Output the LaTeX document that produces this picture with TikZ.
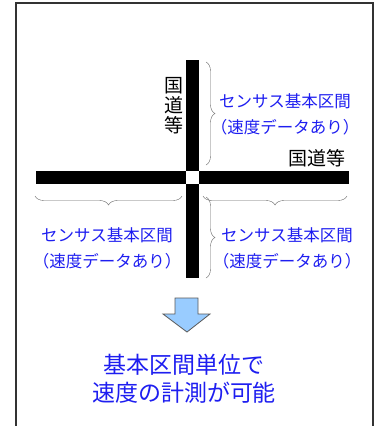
\documentclass[tikz,border=0pt]{standalone}
\usepackage{fontspec}
\setmainfont{Noto Sans CJK JP}
\usepackage{xcolor}
\usetikzlibrary{decorations.pathreplacing}
\definecolor{senblue}{RGB}{30,30,240}
\definecolor{arrowfill}{RGB}{153,204,255}
\tikzset{
	road/.style={fill=black},
	sectbrace/.style={draw=gray!80!black, thin, decorate, decoration={brace, amplitude=9pt}},
	bluetext/.style={text=senblue, font=\fontsize{16.5}{26}\selectfont, align=center, inner sep=0pt},
	roadtext/.style={text=black, font=\fontsize{19}{20}\selectfont, align=center, inner sep=0pt}
}

\begin{document}
\begin{tikzpicture}[x=1pt, y=-1pt]
		\useasboundingbox (0, 0) rectangle (378, 426);
		\draw[line width=1.5pt, black!80]	(16, 440) to (16, 3) to (373, 3) to (373, 440);

		% roads
		\fill[road]	(36, 171) rectangle (349, 184);
		\fill[road]	(186, 60) rectangle (199, 278);
		\fill[white]	(186, 171) rectangle (199, 184);

		\node[roadtext, anchor=east] (nameV) at (184, 106) {国\\道\\等};
		\node[roadtext] (nameH) at (317, 158) {国道等};

		% braces
		\coordinate (braceAa) at (206, 62);
		\coordinate (braceAb) at (206, 165);
		\coordinate (braceBa) at (182, 196);
		\coordinate (braceBb) at (35, 196);
		\coordinate (braceCa) at (347, 196);
		\coordinate (braceCb) at (203, 196);
		\coordinate (braceDa) at (206, 197);
		\coordinate (braceDb) at (206, 278);
		\draw[sectbrace]	(braceAa) to (braceAb);
		\draw[sectbrace]	(braceBa) to (braceBb);
		\draw[sectbrace]	(braceCa) to (braceCb);
		\draw[sectbrace]	(braceDa) to (braceDb);

		\node[bluetext] (secA) at (285, 114) {センサス基本区間\\（速度データあり）};
		\node[bluetext] (secB) at (107, 248) {センサス基本区間\\（速度データあり）};
		\node[bluetext] (secC) at (287, 248) {センサス基本区間\\（速度データあり）};

		% down arrow
		\filldraw[fill=arrowfill, draw=black!65, line width=0.8pt]
			(175, 298) to (198, 298) to (198, 314) to (210, 314) to (187, 332)
			to (163, 314) to (175, 314) -- cycle;

		\node[bluetext, font=\fontsize{23}{28}\selectfont] (result) at (184, 379) {基本区間単位で\\速度の計測が可能};
\end{tikzpicture}
\end{document}
